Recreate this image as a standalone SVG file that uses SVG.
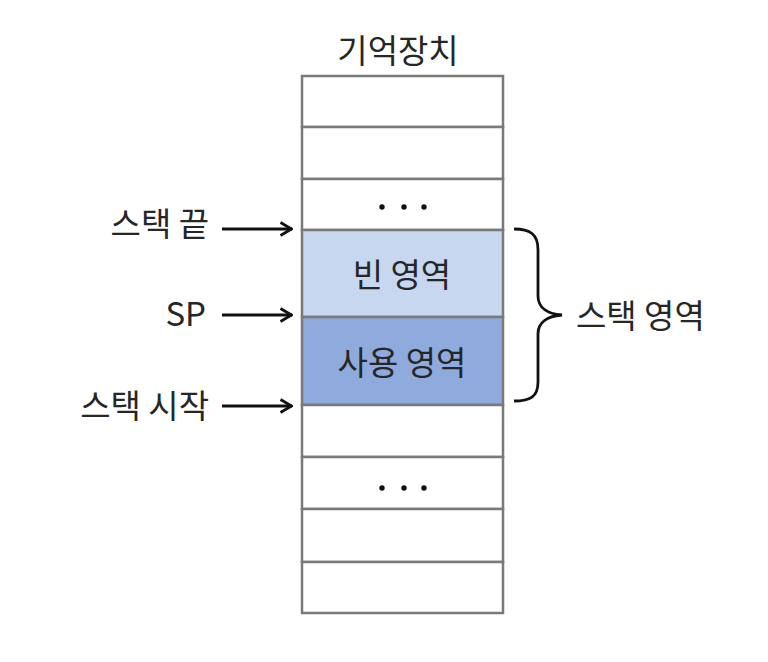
<svg xmlns="http://www.w3.org/2000/svg" width="768" height="662" viewBox="0 0 768 662">
<style>
.t{font-family:"Malgun Gothic","Noto Sans CJK KR","Noto Sans",sans-serif;font-size:33px;fill:#262626}
.cell{stroke:#7a7a7a;stroke-width:2.5}
.arr{stroke:#111;stroke-width:2.8;fill:none}
.dot{fill:#111}
</style>
<defs>
<marker id="ah" viewBox="0 0 14 16" refX="13" refY="8" markerWidth="14" markerHeight="16" markerUnits="userSpaceOnUse" orient="auto">
<polyline points="1.5,1.5 12.5,8 1.5,14.5" fill="none" stroke="#111" stroke-width="2.8"/>
</marker>
</defs>
<rect width="768" height="662" fill="#fff"/>
<text class="t" x="398" y="63" text-anchor="middle">기억장치</text>
<g id="memory">
<rect id="r1" class="cell" x="302" y="76" width="201" height="51" fill="#fff"/>
<rect id="r2" class="cell" x="302" y="127" width="201" height="52" fill="#fff"/>
<g id="r3"><rect class="cell" x="302" y="179" width="201" height="51" fill="#fff"/>
<circle class="dot" cx="382" cy="207" r="2.7"/><circle class="dot" cx="404" cy="207" r="2.7"/><circle class="dot" cx="424" cy="207" r="2.7"/></g>
<g id="empty"><rect class="cell" x="302" y="230" width="201" height="87" fill="#c6d7ef"/>
<text class="t" x="402" y="287" text-anchor="middle">빈 영역</text></g>
<g id="used"><rect class="cell" x="302" y="317" width="201" height="88" fill="#8faadc"/>
<text class="t" x="402" y="375" text-anchor="middle">사용 영역</text></g>
<rect id="r6" class="cell" x="302" y="405" width="201" height="52" fill="#fff"/>
<g id="r7"><rect class="cell" x="302" y="457" width="201" height="52" fill="#fff"/>
<circle class="dot" cx="382" cy="488" r="2.7"/><circle class="dot" cx="404" cy="488" r="2.7"/><circle class="dot" cx="424" cy="488" r="2.7"/></g>
<rect id="r8" class="cell" x="302" y="509" width="201" height="53" fill="#fff"/>
<rect id="r9" class="cell" x="302" y="562" width="201" height="51" fill="#fff"/>
</g>
<g id="label-end"><text class="t" x="209" y="236" text-anchor="end">스택 끝</text></g>
<g id="label-sp"><text class="t" x="206" y="326" text-anchor="end">SP</text></g>
<g id="label-start"><text class="t" x="209" y="418" text-anchor="end">스택 시작</text></g>
<g id="label-area"><text class="t" x="576" y="328">스택 영역</text></g>
<g id="connectors">
<line class="arr" x1="222" y1="229" x2="292" y2="229" marker-end="url(#ah)"/>
<line class="arr" x1="222" y1="315" x2="292" y2="315" marker-end="url(#ah)"/>
<line class="arr" x1="222" y1="406" x2="292" y2="406" marker-end="url(#ah)"/>
<path class="arr" d="M514,229 C530,229 538,234 538,250 L538,296 C538,308 548,314 562,315 C548,316 538,322 538,334 L538,382 C538,397 530,401 514,401"/>
</g>
</svg>
